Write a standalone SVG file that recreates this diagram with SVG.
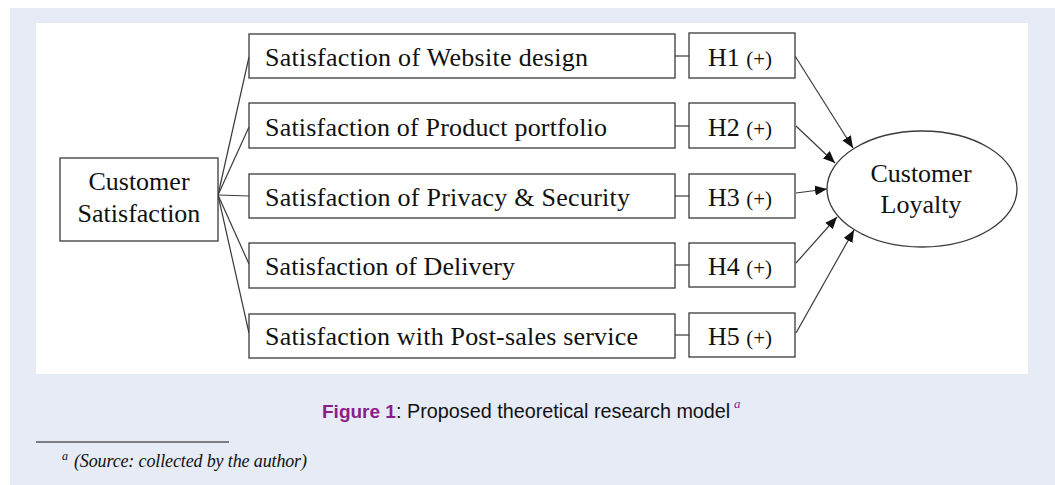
<svg xmlns="http://www.w3.org/2000/svg" width="1055" height="485" viewBox="0 0 1055 485">
<style>
.box{fill:#fff;stroke:#3a3a3a;stroke-width:1.3}
.t{font-family:"Liberation Serif","Times New Roman",serif;font-size:26px;fill:#111}
.ts{font-size:21px}
.c{stroke:#3a3a3a;stroke-width:1.2;fill:none}
.a{stroke:#3a3a3a;stroke-width:1.2;fill:none;marker-end:url(#ah)}
.cap{font-family:"Liberation Sans",Arial,sans-serif;font-size:19.8px;fill:#111}
.fig{font-weight:bold;fill:#8b1d8a;font-size:19px}
.sup{font-family:"Liberation Serif",serif;font-style:italic;font-size:13px;fill:#8b1d8a}
.fn{font-family:"Liberation Serif","Times New Roman",serif;font-style:italic;font-size:18px;fill:#111}
</style>
<defs>
<marker id="ah" viewBox="0 0 12 10" refX="12" refY="5" markerWidth="12" markerHeight="10" markerUnits="userSpaceOnUse" orient="auto">
<path d="M0,0 L12,5 L0,10 Z" fill="#111"/>
</marker>
</defs>
<rect x="10" y="8" width="1045" height="477" fill="#e7ebf6"/>
<rect x="36" y="23" width="992" height="351" fill="#fff"/>

<g id="connectors">
<line class="c" x1="218" y1="195" x2="249" y2="57"/>
<line class="c" x1="218" y1="195" x2="249" y2="127"/>
<line class="c" x1="218" y1="195" x2="249" y2="196"/>
<line class="c" x1="218" y1="195" x2="249" y2="264"/>
<line class="c" x1="218" y1="195" x2="249" y2="333"/>
<line class="c" x1="675" y1="56" x2="689" y2="56"/>
<line class="c" x1="675" y1="126" x2="689" y2="126"/>
<line class="c" x1="675" y1="196" x2="689" y2="196"/>
<line class="c" x1="675" y1="265" x2="689" y2="265"/>
<line class="c" x1="675" y1="335" x2="689" y2="335"/>
<line class="a" x1="795" y1="56" x2="853" y2="148"/>
<line class="a" x1="796" y1="126" x2="835" y2="163"/>
<line class="a" x1="796" y1="193" x2="827" y2="189"/>
<line class="a" x1="796" y1="263" x2="837" y2="217"/>
<line class="a" x1="796" y1="333" x2="854" y2="230"/>
</g>

<g id="customer-satisfaction">
<rect class="box" x="60" y="158" width="158" height="83"/>
<text class="t" x="139" y="190" text-anchor="middle">Customer</text>
<text class="t" x="139" y="222" text-anchor="middle">Satisfaction</text>
</g>

<g id="s1">
<rect class="box" x="249" y="34" width="426" height="44"/>
<text class="t" x="265" y="66" textLength="323" lengthAdjust="spacing">Satisfaction of Website design</text>
</g>
<g id="s2">
<rect class="box" x="249" y="103" width="426" height="45"/>
<text class="t" x="265" y="136" textLength="342" lengthAdjust="spacing">Satisfaction of Product portfolio</text>
</g>
<g id="s3">
<rect class="box" x="249" y="174" width="426" height="44"/>
<text class="t" x="265" y="206" textLength="365" lengthAdjust="spacing">Satisfaction of Privacy &amp; Security</text>
</g>
<g id="s4">
<rect class="box" x="249" y="243" width="426" height="45"/>
<text class="t" x="265" y="275" textLength="250" lengthAdjust="spacing">Satisfaction of Delivery</text>
</g>
<g id="s5">
<rect class="box" x="249" y="314" width="426" height="44"/>
<text class="t" x="265" y="345" textLength="373" lengthAdjust="spacing">Satisfaction with Post-sales service</text>
</g>

<g id="h1">
<rect class="box" x="689" y="33" width="106" height="45"/>
<text class="t" x="708" y="66">H1 <tspan class="ts">(+)</tspan></text>
</g>
<g id="h2">
<rect class="box" x="689" y="103" width="106" height="45"/>
<text class="t" x="708" y="136">H2 <tspan class="ts">(+)</tspan></text>
</g>
<g id="h3">
<rect class="box" x="689" y="174" width="106" height="44"/>
<text class="t" x="708" y="206">H3 <tspan class="ts">(+)</tspan></text>
</g>
<g id="h4">
<rect class="box" x="689" y="243" width="106" height="44"/>
<text class="t" x="708" y="275">H4 <tspan class="ts">(+)</tspan></text>
</g>
<g id="h5">
<rect class="box" x="689" y="313" width="106" height="44"/>
<text class="t" x="708" y="345">H5 <tspan class="ts">(+)</tspan></text>
</g>

<g id="customer-loyalty">
<ellipse cx="922" cy="189" rx="95" ry="58" fill="#fff" stroke="#3a3a3a" stroke-width="1.3"/>
<text class="t" x="921" y="182" text-anchor="middle">Customer</text>
<text class="t" x="921" y="213" text-anchor="middle">Loyalty</text>
</g>

<g id="caption">
<text class="cap" x="322" y="418"><tspan class="fig">Figure 1</tspan><tspan x="396">: Proposed theoretical research model</tspan><tspan class="sup" x="734" dy="-10">a</tspan></text>
</g>

<g id="footnote">
<line x1="36" y1="442" x2="229" y2="442" stroke="#111" stroke-width="1.2"/>
<text class="fn" x="62" y="460"><tspan style="font-size:12px">a</tspan><tspan x="74" dy="7" textLength="233" lengthAdjust="spacing">(Source: collected by the author)</tspan></text>
</g>
</svg>
